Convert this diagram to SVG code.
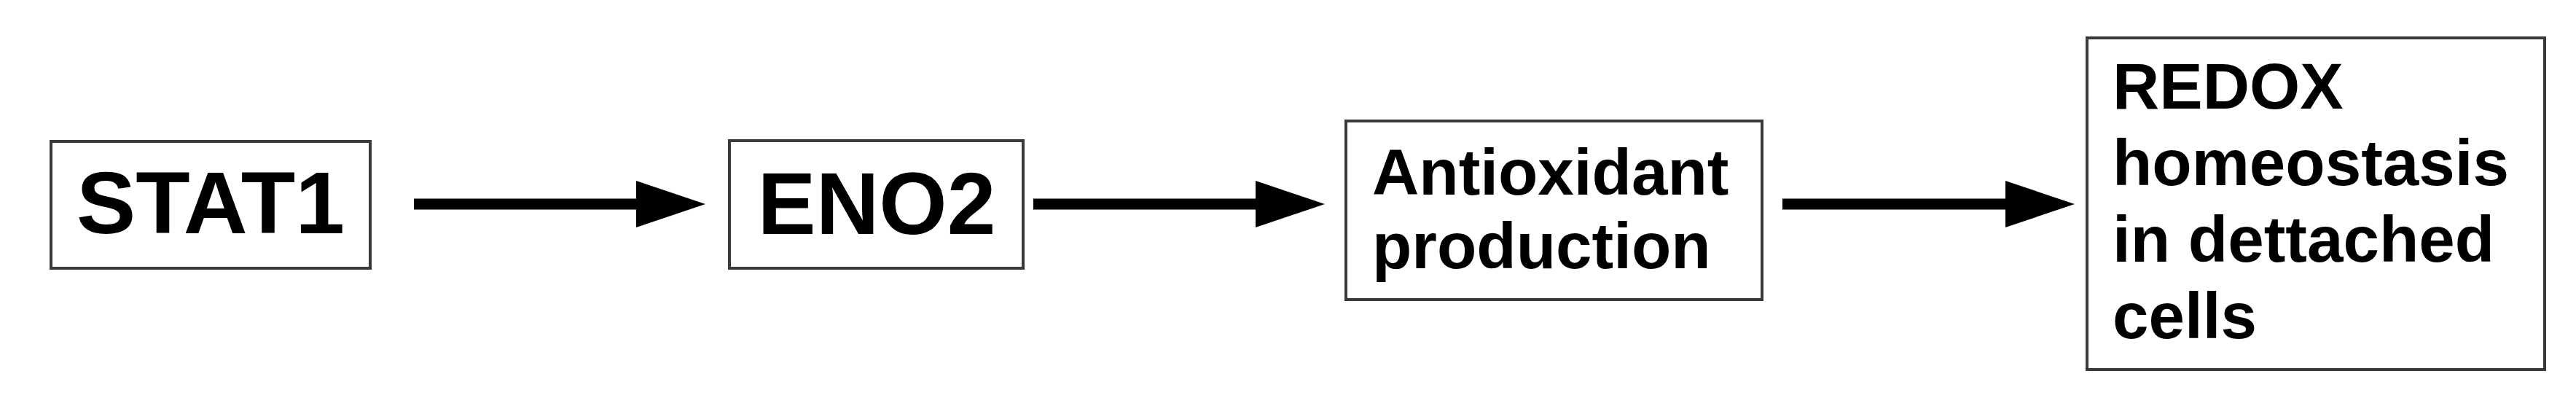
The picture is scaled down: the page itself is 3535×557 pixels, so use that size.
<svg xmlns="http://www.w3.org/2000/svg" width="3535" height="557" viewBox="0 0 3535 557">
  <style>
    .box { fill: #ffffff; stroke: #3a3a3a; stroke-width: 4; }
    .big { font-family: "Liberation Sans", Arial, sans-serif; font-weight: bold; font-size: 120px; fill: #000; }
    .txt { font-family: "Liberation Sans", Arial, sans-serif; font-weight: bold; font-size: 89px; fill: #000; }
    .edge { stroke: #000; stroke-width: 15; fill: none; }
  </style>
  <defs>
    <marker id="arrowhead" markerUnits="userSpaceOnUse" viewBox="0 0 95 64" markerWidth="95" markerHeight="64" refX="1" refY="32" orient="auto">
      <polygon points="0,0 95,32 0,64" fill="#000"/>
    </marker>
  </defs>
  <rect width="3535" height="557" fill="#ffffff"/>

  <g id="connectors">
    <line class="edge" x1="568" y1="280" x2="874" y2="280" marker-end="url(#arrowhead)"/>
    <line class="edge" x1="1418" y1="280" x2="1724" y2="280" marker-end="url(#arrowhead)"/>
    <line class="edge" x1="2446" y1="280" x2="2753" y2="280" marker-end="url(#arrowhead)"/>
  </g>

  <g id="node-stat1">
    <rect class="box" x="70" y="194" width="438" height="174"/>
    <text class="big" x="289" y="320" text-anchor="middle" textLength="368" lengthAdjust="spacingAndGlyphs">STAT1</text>
  </g>

  <g id="node-eno2">
    <rect class="box" x="1001" y="193" width="403" height="175"/>
    <text class="big" x="1203" y="321" text-anchor="middle">ENO2</text>
  </g>

  <g id="node-antioxidant">
    <rect class="box" x="1847" y="166" width="571" height="245"/>
    <text class="txt" x="1883" y="267">Antioxidant</text>
    <text class="txt" x="1883" y="368">production</text>
  </g>

  <g id="node-redox">
    <rect class="box" x="2864" y="52" width="628" height="455"/>
    <text class="txt" x="2899" y="149">REDOX</text>
    <text class="txt" x="2899" y="254">homeostasis</text>
    <text class="txt" x="2899" y="359">in dettached</text>
    <text class="txt" x="2899" y="464">cells</text>
  </g>
</svg>
